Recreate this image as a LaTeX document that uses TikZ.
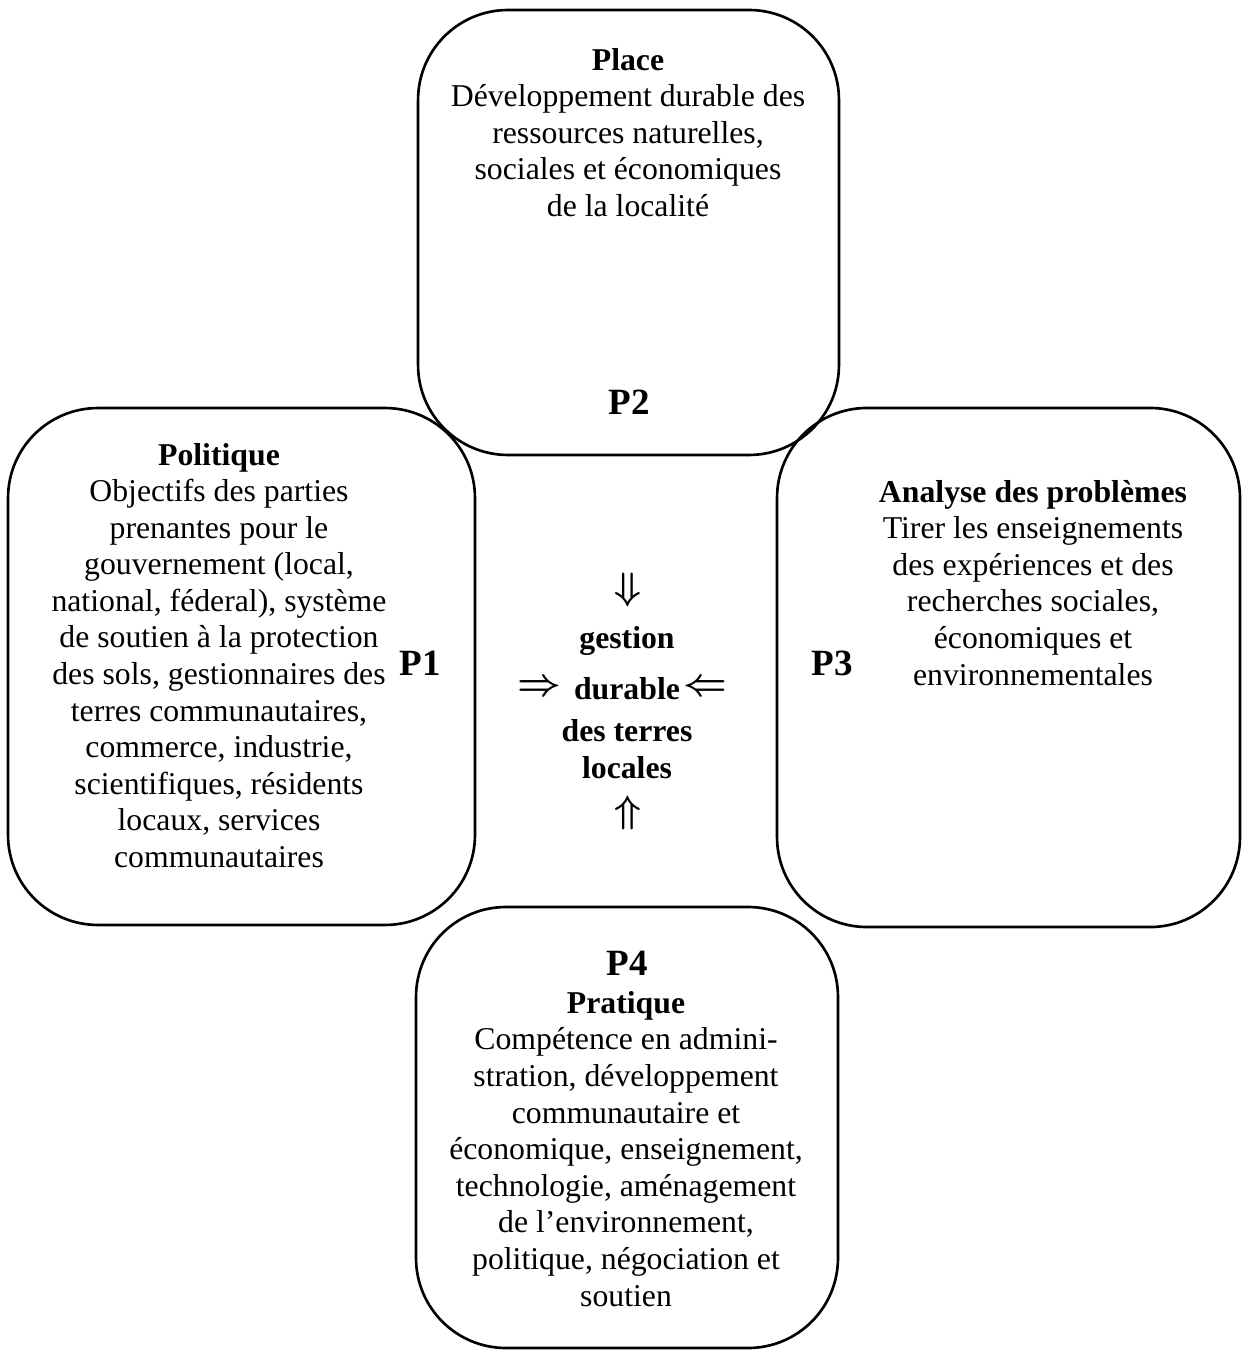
\documentclass[tikz,border=0pt]{standalone}
\usepackage{fontspec}
\setmainfont{Liberation Serif}

\begin{document}
\begin{tikzpicture}[x=0.378pt,y=-0.378pt,
  panel/.style={draw,line width=1pt,rounded corners=34pt,inner sep=0pt},
  body/.style={align=center,inner sep=0pt,anchor=base,font=\fontsize{12}{13.83}\selectfont},
  plabel/.style={inner sep=0pt,anchor=base,font=\fontsize{14}{16}\selectfont\bfseries},
  core/.style={inner sep=0pt,anchor=base,font=\fontsize{12}{13.83}\selectfont\bfseries},
  tip/.style={inner sep=0pt,font=\fontsize{14}{16}\selectfont\boldmath}]
\useasboundingbox (0,0) rectangle (1242,1352);
% the four panels
\node[panel,minimum width=159.1pt,minimum height=168.2pt] (placebox) at (628.5,232.5) {};
\node[panel,minimum width=176.5pt,minimum height=195.4pt] (polbox) at (241.5,666.5) {};
\node[panel,minimum width=175.0pt,minimum height=196.2pt] (anabox) at (1008.5,667.5) {};
\node[panel,minimum width=159.5pt,minimum height=166.7pt] (pratbox) at (627,1127.5) {};
% texts (placed by the baseline of their last line)
\node[body] (place) at (628,216.5) {\textbf{Place}\\Développement durable des\\ressources naturelles,\\sociales et économiques\\de la localité};
\node[plabel] (ptwo) at (629,415) {P2};
\node[body] (pol) at (219,867.5) {\textbf{Politique}\\Objectifs des parties\\prenantes pour le\\gouvernement (local,\\national, féderal), système\\de soutien à la protection\\des sols, gestionnaires des\\terres communautaires,\\commerce, industrie,\\scientifiques, résidents\\locaux, services\\communautaires};
\node[plabel] (pone) at (420,675) {P1};
\node[body] (ana) at (1033,685) {\textbf{Analyse des problèmes}\\Tirer les enseignements\\des expériences et des\\recherches sociales,\\économiques et\\environnementales};
\node[plabel] (pthree) at (832,675) {P3};
\node[plabel] (pfour) at (627,975) {P4};
\node[body] (prat) at (626,1306) {\textbf{Pratique}\\Compétence en admini-\\stration, développement\\communautaire et\\économique, enseignement,\\technologie, aménagement\\de l’environnement,\\politique, négociation et\\soutien};
% centre
\node[core] (gestion) at (627,648) {gestion};
\node[core] (durable) at (627,699) {durable};
\node[core] (terres) at (627,741) {des terres};
\node[core] (locales) at (627,778) {locales};
\node[tip] (down) at (628,590) {$\Downarrow$};
\node[tip] (up) at (628,813) {$\Uparrow$};
\node[tip] (right) at (539,688) {$\Rightarrow$};
\node[tip] (left) at (705,688) {$\Leftarrow$};
\end{tikzpicture}
\end{document}
